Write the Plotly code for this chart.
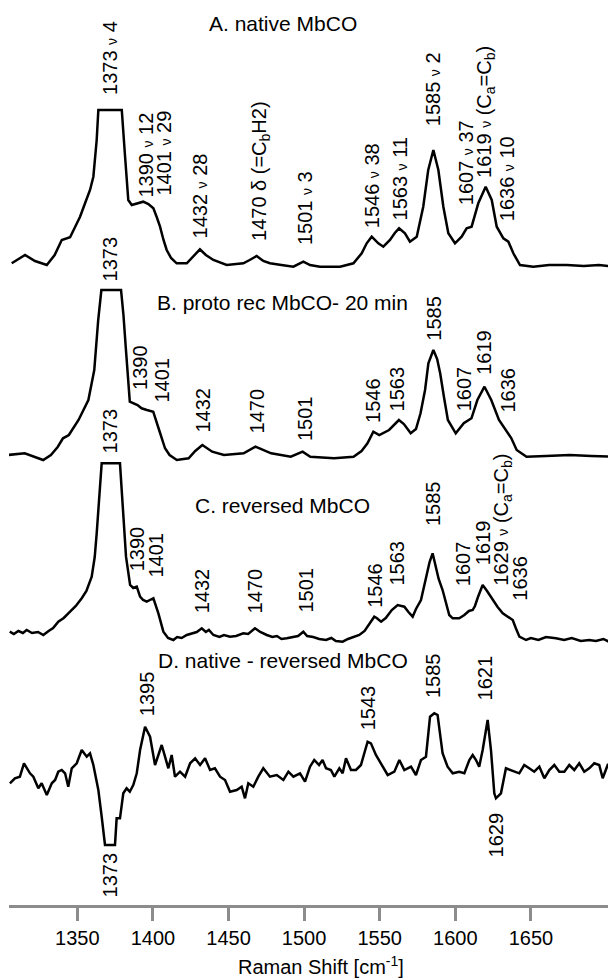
import plotly.graph_objects as go

# ---------------- data (Raman shift in cm-1, intensity in a.u.) ----------------
A_shift = [1306.6, 1315.4, 1322, 1329.8, 1335, 1339.7, 1345.2, 1351.8, 1355.1, 1358.4, 1360.6, 1361.7,
           1362.8, 1363.9, 1379.4, 1381.5, 1383.7, 1386, 1390, 1393.6, 1397, 1400.3, 1402.5, 1404.7,
           1407, 1409.1, 1412, 1415.7, 1422.4, 1427, 1431.1, 1435, 1440, 1448.8, 1455, 1459.8, 1464,
           1468.6, 1473, 1477.4, 1485, 1492.9, 1499.5, 1503.9, 1510.5, 1523.8, 1532.6, 1538.1, 1541.4,
           1544.7, 1549.1, 1552.4, 1556.8, 1560, 1562.8, 1566.7, 1570, 1574.5, 1578.8, 1582.1, 1585.5,
           1588.8, 1592.1, 1595.4, 1599.8, 1604.2, 1607.5, 1610.8, 1615.2, 1620.1, 1624.1, 1627.4,
           1631.8, 1635.1, 1638.4, 1642.8, 1651.6, 1662, 1673.7, 1685, 1695, 1706.3]
A_int = [1.7, 10, 4, 0, 10, 25, 27.7, 48.3, 61.7, 75, 88.3, 105,
         125, 155, 155, 110, 65, 60, 62, 63.3, 61, 56.7, 48, 38.3,
         25, 15, 7, 1.7, 1.7, 9, 15.7, 10, 5, 0, 1, 1.7, 5,
         9, 4, 1.7, 0, -1.7, 3.3, 0, -1.7, -1.7, 1.7, 11.7, 21.7,
         28.3, 21.7, 18.3, 25, 32, 36.7, 31.7, 23.3, 28.3, 58.3, 95, 115,
         95, 58.3, 31.7, 21.7, 28.3, 36.7, 38.3, 61.7, 78.3, 65, 38.3,
         26.7, 23.3, 11.7, 0, -1.7, 0, 0, -1, 0, -1.7]

B_shift = [1304, 1315.2, 1327.4, 1332.5, 1337, 1340.5, 1344.4, 1350.8, 1357.3, 1361.2, 1363.8, 1365.9,
           1378.9, 1380.5, 1382, 1384.7, 1389.8, 1392.5, 1396, 1400.2, 1404.1, 1408, 1411, 1415.8,
           1423.6, 1428, 1432.7, 1439.2, 1447, 1460, 1467.8, 1478.2, 1491.2, 1499, 1504.1, 1519.8,
           1532.7, 1538, 1541.9, 1545.8, 1549.7, 1556.2, 1562.7, 1566, 1570.5, 1574, 1577, 1580,
           1582.2, 1585.5, 1588, 1590, 1592.5, 1595.1, 1600.3, 1605.6, 1610.7, 1614.6, 1619.3,
           1623.8, 1628.9, 1634.1, 1637, 1640.6, 1647.1, 1660, 1675.7, 1690, 1706]
B_int = [0, 1.7, -5, 0, 8, 16.7, 20, 35, 55, 85, 135, 165,
         165, 140, 108.3, 53.3, 50, 46.7, 45, 43.3, 25, 6.7, 0, -5,
         -3.3, 4, 10, 3.3, 0, 1.7, 8.3, 1.7, -1.7, 3.3, -1.7, -3.3,
         -1.7, 4, 11.7, 23.3, 20, 25, 35, 31, 21.7, 26, 41.7, 65,
         91.7, 105, 96, 81.7, 58, 35, 21.7, 31.7, 36.7, 55, 68.3,
         55, 35, 23.3, 17, 5, -1.7, -1, 0, -1, -1.7]

C_shift = [1305.3, 1308, 1311, 1314, 1316.5, 1320, 1324, 1327.5, 1331, 1334, 1337.4, 1341, 1345.2,
           1349, 1352.9, 1356, 1359.5, 1361.5, 1362.8, 1365, 1366.1, 1378.2, 1380.4, 1382.2, 1384.9,
           1387, 1389.3, 1391.5, 1393.5, 1395.9, 1398, 1400.3, 1403.6, 1406.9, 1410, 1413.5, 1416,
           1419, 1422.4, 1426, 1429, 1432.3, 1435, 1437, 1440, 1444, 1447, 1451, 1455, 1459.8, 1463,
           1467.5, 1471, 1475.3, 1479, 1482, 1485, 1488.5, 1492, 1496, 1499.5, 1502, 1506, 1510,
           1514.5, 1518, 1521, 1525.5, 1529, 1533, 1536.5, 1540, 1543, 1546.4, 1548, 1550.9, 1554,
           1558, 1561.9, 1566.3, 1569, 1571.8, 1574, 1577.3, 1580, 1583, 1585, 1587, 1589, 1591.6,
           1594, 1596, 1598.3, 1602.6, 1606, 1609, 1611.5, 1613, 1615, 1618.1, 1621, 1624.7, 1628,
           1631.4, 1635, 1638, 1640, 1642.4, 1646.8, 1650, 1655, 1660, 1666.6, 1672, 1677, 1683,
           1688.6, 1693, 1698, 1702, 1706]
C_int = [5.3, 3, 6, 4, 7, 4, 5, 2, 6, 9, 15.3, 19, 25.3,
         31, 38.7, 46, 60.3, 80, 103.7, 153.7, 173.7, 173.7, 120.3, 80.3, 52,
         49, 50.3, 40.3, 37, 35.3, 37, 38.7, 23.7, 5.3, -1, -3, 0,
         -1, 2, 4, 5, 8.7, 5, 7, 2, 0, 2, 0.3, 1, 3.7, 3,
         8.7, 5, 2, 0, 1, -2, -1.3, 0, 1, 5.3, 1, 0, -2,
         -3, -1, -4, -4.7, -2, 0, 2, 6, 13, 20.3, 19, 15.3, 19,
         27, 32, 30.3, 25, 20.3, 28, 37, 55, 75, 83.7, 72, 58, 47,
         32, 22, 18.7, 18.7, 22, 26, 27, 31, 40, 52, 46, 37, 30,
         23.7, 20, 17, 9, 0.3, -3, -1, -3, 0, -1.3, -3, -1, -4,
         -3, -4, -2, -5, -4.7]

D_shift = [1305.4, 1308.7, 1312, 1314.7, 1318.7, 1320.9, 1324.2, 1326.4, 1329.8, 1333.1, 1335.3, 1337.4,
           1339.7, 1341.9, 1344, 1346.3, 1349.6, 1352.9, 1356.2, 1358.4, 1360.6, 1363.9, 1366.1, 1368.3,
           1374.9, 1376, 1378.2, 1380.4, 1382.6, 1384.7, 1387, 1389.3, 1391.5, 1394.8, 1398.1, 1401.4,
           1403.6, 1405.8, 1408, 1410.2, 1412.4, 1414.6, 1417.9, 1421.3, 1424.6, 1427.9, 1431.2, 1434.5,
           1437.8, 1441, 1444.4, 1447.7, 1451, 1455.4, 1458.7, 1460.9, 1463.1, 1466.4, 1469.7, 1473,
           1477.4, 1481.9, 1486.3, 1489.6, 1492.9, 1497.3, 1500.6, 1503.9, 1506.7, 1509.9, 1512.2, 1514.5,
           1517.7, 1520, 1523.3, 1525.5, 1527.7, 1531, 1534.3, 1537.6, 1542, 1544.2, 1547.5, 1550.9,
           1555.3, 1559.7, 1563, 1566.3, 1570.7, 1574, 1577.3, 1580.6, 1583.3, 1586.1, 1588.3, 1591.6,
           1594.9, 1598.3, 1602.6, 1606, 1609.3, 1611.5, 1613.7, 1615.8, 1618.1, 1621.4, 1623.6, 1625.8,
           1626.9, 1630.2, 1633.5, 1642.3, 1645.6, 1648.9, 1652.2, 1655.6, 1658.9, 1662.2, 1665.5, 1668.8,
           1672.1, 1675.4, 1678.7, 1682, 1685.3, 1688.6, 1691.9, 1695.2, 1697.5, 1700.8, 1706]
D_int = [-13.3, -8.3, -6.7, 6.7, -3.3, -6.7, -18.3, -13.3, -25, -13.3, -10, -1.7,
         0, -3.3, -16.7, 1.7, 6.7, 20, 13.3, 16.7, 5, -20, -46.7, -75,
         -75, -48.3, -48.3, -23.3, -18.3, -21.7, -15, -3.3, 20, 43.3, 33.3, 5,
         15, 25, 13.3, 1.7, 15, -6.7, -1.7, -6.7, 6.7, 11.7, 5, 11.7,
         0, 1.7, -6.7, -10, -21.7, -20, -16.7, -28.3, -13.3, -16.7, -6.7, 1.7,
         -6.7, -5, -10, -1.7, -6.7, -3.3, -11.7, 3.3, 10, 5, 10, 1.7,
         0, -6.7, 1.7, -3.3, 11.7, 0, 0, 5, 28.3, 26.7, 15, 6.7,
         -5, -1.7, 10, 0, 3.3, -5, 10, 13.3, 53.3, 56.7, 55, 16.7,
         3.3, -3.3, -1.7, -3.3, 10, 15, 10, 3.3, 20, 50, 20, -23.3,
         -28.3, -23.3, 1.7, -3.3, 5, 1.7, -1.7, 3.3, -8.3, 0, 5, -1.7,
         -1.7, 5, 0, 6.7, -1.7, 1.7, 6.7, 5, -8.3, 5, 1.7]

series_names = ["A. native MbCO", "B. proto rec MbCO- 20 min", "C. reversed MbCO", "D. native - reversed MbCO"]
series_shift = [A_shift, B_shift, C_shift, D_shift]
series_int = [A_int, B_int, C_int, D_int]

NU = "<span style='font-size:14px'>\u03bd</span>"
A_labels = ["1373 " + NU + " 4", "1390 " + NU + " 12", "1401 " + NU + " 29", "1432 " + NU + " 28",
            "1470 \u03b4 (=C<sub>b</sub>H2)", "1501 " + NU + " 3", "1546 " + NU + " 38", "1563 " + NU + " 11",
            "1585 " + NU + " 2", "1607 " + NU + " 37", "1619 " + NU + " (C<sub>a</sub>=C<sub>b</sub>)",
            "1636 " + NU + " 10"]
B_labels = ["1373", "1390", "1401", "1432", "1470", "1501", "1546", "1563", "1585", "1607", "1619", "1636"]
C_labels = ["1373", "1390", "1401", "1432", "1470", "1501", "1546", "1563", "1585", "1607", "1619",
            "1629 " + NU + " (C<sub>a</sub>=C<sub>b</sub>)", "1636"]
D_labels_up = ["1395", "1543", "1585", "1621"]
D_labels_down = ["1373", "1629"]

tick_vals = [1350, 1400, 1450, 1500, 1550, 1600, 1650]

# ---------------- layout / positions ----------------
offsets = [640, 450, 268, 135]          # vertical stacking offsets
A_lab_pos = [(1371.6, 808), (1394.8, 705), (1406.7, 707), (1431.1, 665), (1470.8, 662), (1500.6, 658),
             (1544.7, 675), (1563.4, 683), (1585.4, 777), (1606.9, 698), (1619.6, 725), (1634.0, 682)]
B_lab_pos = [(1371.6, 622), (1391.1, 513), (1405.4, 500), (1432.5, 470), (1468.8, 470), (1500.3, 462),
             (1545.2, 480), (1561.4, 492), (1585.4, 562), (1605.6, 492), (1618.5, 528), (1634.2, 490)]
C_lab_pos = [(1371.6, 450), (1389.3, 332), (1401.4, 325), (1432.3, 290), (1467.5, 290), (1500.6, 290),
             (1546.4, 295), (1560.8, 317), (1585.0, 377), (1604.9, 317), (1618.1, 338), (1630.7, 317),
             (1642.3, 302)]
D_lab_up_pos = [(1395.9, 187), (1542.1, 173), (1585.0, 205), (1619.6, 203)]
D_lab_down_pos = [(1371.6, 55), (1626.9, 95)]
title_pos = [(1486, 882), (1486, 603), (1486, 400), (1486, 245)]

FONT = "Liberation Sans, Arial, sans-serif"

fig = go.Figure()
for sx, si, off in zip(series_shift, series_int, offsets):
    fig.add_trace(go.Scatter(x=sx, y=[v + off for v in si], mode="lines",
                             line=dict(color="black", width=2.5), showlegend=False, hoverinfo="skip"))

ann = []
def lab(text, x, y, yanchor="bottom", angle=-90, size=20):
    ann.append(dict(text=text, x=x, y=y, xref="x", yref="y", showarrow=False, textangle=angle,
                    xanchor="center", yanchor=yanchor, font=dict(size=size, color="black", family=FONT)))

for labels, pos in [(A_labels, A_lab_pos), (B_labels, B_lab_pos), (C_labels, C_lab_pos), (D_labels_up, D_lab_up_pos)]:
    for t, (x, y) in zip(labels, pos):
        lab(t, x, y)
for t, (x, y) in zip(D_labels_down, D_lab_down_pos):
    lab(t, x, y, yanchor="top")
for t, (x, y) in zip(series_names, title_pos):
    lab(t, x, y, yanchor="middle", angle=0, size=21)

ann.append(dict(text="Raman Shift [cm<sup>-1</sup>]", x=0.514, y=-0.068, xref="paper", yref="paper",
                showarrow=False, xanchor="center", yanchor="middle",
                font=dict(size=20, color="black", family=FONT)))

# the page body adds an 8 px offset, so the figure is placed 8 px up/left of the target frame
fig.update_layout(
    width=616, height=980, margin=dict(l=1, r=8, t=0, b=83),
    paper_bgcolor="white", plot_bgcolor="white",
    annotations=ann,
    xaxis=dict(range=[1304.8, 1706.3], tickvals=tick_vals, ticks="outside", ticklen=13, tickwidth=2.5,
               tickcolor="#8c8c8c", showline=True, linecolor="#8c8c8c", linewidth=2.5, showgrid=False,
               zeroline=False, tickfont=dict(size=20, color="black", family=FONT)),
    yaxis=dict(range=[0, 897], visible=False, showgrid=False, zeroline=False),
)

fig.write_html("out.html")
